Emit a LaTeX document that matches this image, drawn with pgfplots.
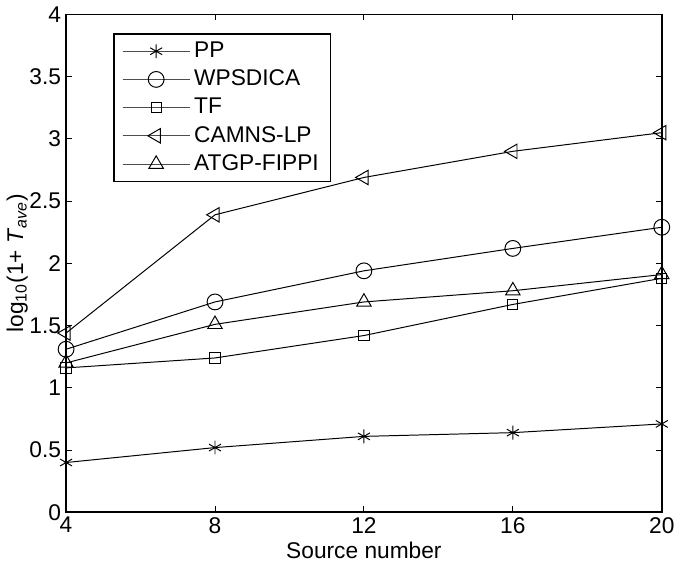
\documentclass[border=0pt]{standalone}
\usepackage{pgfplots}
\pgfplotsset{compat=1.18}
\usepackage{fontspec}
\setmainfont{Liberation Sans}
\setsansfont{Liberation Sans}

\begin{document}
\begin{tikzpicture}
\begin{axis}[
  scale only axis,
  width=301.5pt, height=252pt,
  xmin=4, xmax=20, ymin=0, ymax=4,
  xtick={4,8,12,16,20},
  ytick={0,0.5,1,1.5,2,2.5,3,3.5,4},
  yticklabels={0,0.5,1,1.5,2,2.5,3,3.5,4},
  tick align=inside,
  major tick length=3pt,
  axis line style={line width=0.9pt},
  tick style={black, line width=0.5pt},
  ticklabel style={font=\fontsize{11.5}{13}\selectfont},
  xticklabel style={yshift=1pt},
  yticklabel style={xshift=1pt},
  /pgf/number format/assume math mode=true,
  xlabel={Source number},
  ylabel={log\textsubscript{10}(1+ \textit{T}\textsubscript{\textit{ave}})},
  label style={font=\fontsize{11.5}{13}\selectfont},
  xlabel style={yshift=2.5pt},
  ylabel style={yshift=-6pt},
  legend cell align=left,
  legend style={at={(0.0796,0.962)}, anchor=north west, draw=black, line width=0.7pt,
    font=\fontsize{11.5}{13}\selectfont, row sep=0.8pt, inner xsep=4pt, inner ysep=2pt},
  legend image code/.code={\draw[#1, line width=0.5pt, black!70] (0pt,0pt) -- (34pt,0pt); \draw[#1, black] plot coordinates {(17pt,0pt)};},
  every axis plot/.append style={black, line width=0.5pt, mark options={solid, line width=0.5pt, fill=none}},
]
\addplot[mark=asterisk, mark size=3.5pt] coordinates {(4,0.40) (8,0.52) (12,0.61) (16,0.64) (20,0.71)};
\addlegendentry{PP}
\addplot[mark=o, mark size=4pt] coordinates {(4,1.31) (8,1.69) (12,1.94) (16,2.12) (20,2.29)};
\addlegendentry{WPSDICA}
\addplot[mark=square, mark size=2.6pt] coordinates {(4,1.16) (8,1.24) (12,1.42) (16,1.67) (20,1.88)};
\addlegendentry{TF}
\addplot[mark=triangle, mark size=4.2pt, mark options={rotate=90}] coordinates {(4,1.44) (8,2.39) (12,2.69) (16,2.90) (20,3.05)};
\addlegendentry{CAMNS-LP}
\addplot[mark=triangle, mark size=4.2pt] coordinates {(4,1.20) (8,1.51) (12,1.69) (16,1.78) (20,1.91)};
\addlegendentry{ATGP-FIPPI}
\end{axis}
\end{tikzpicture}
\end{document}
